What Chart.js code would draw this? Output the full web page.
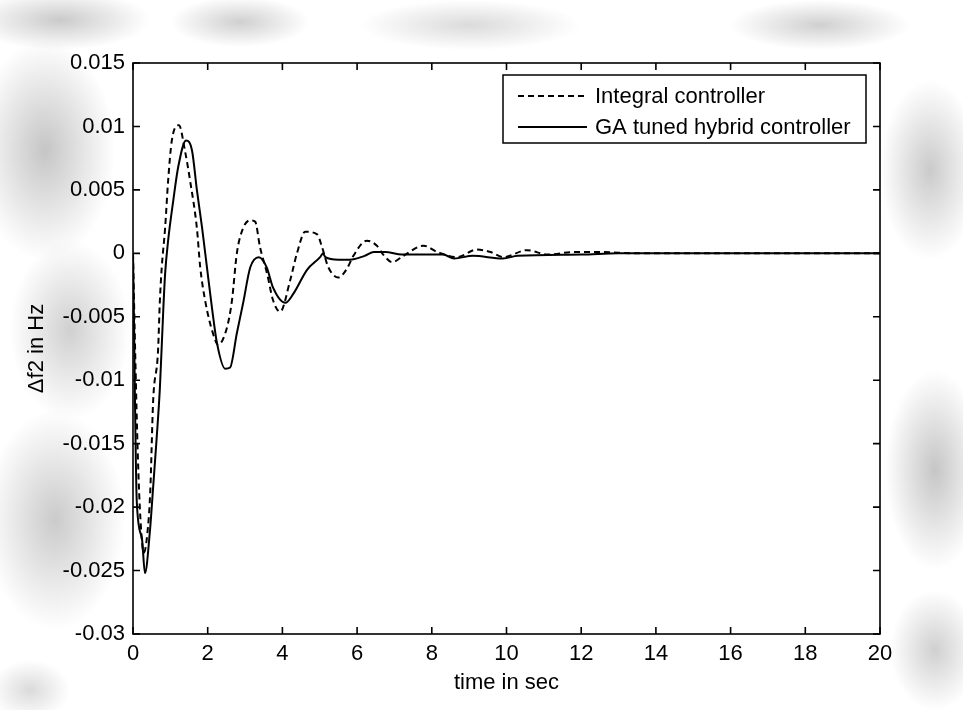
<!DOCTYPE html>
<html>
<head>
<meta charset="utf-8">
<script src="https://cdn.jsdelivr.net/npm/chart.js@4.4.1/dist/chart.umd.min.js"></script>
<style>
  html, body { margin: 0; padding: 0; background: #ffffff; }
  #wrap {
    position: relative; width: 963px; height: 710px; overflow: hidden;
    background:
      radial-gradient(ellipse 70px 110px at 45px 150px, rgba(150,150,150,0.55), rgba(150,150,150,0) 100%),
      radial-gradient(ellipse 60px 90px at 70px 330px, rgba(150,150,150,0.45), rgba(150,150,150,0) 100%),
      radial-gradient(ellipse 70px 110px at 55px 520px, rgba(150,150,150,0.5), rgba(150,150,150,0) 100%),
      radial-gradient(ellipse 90px 30px at 60px 20px, rgba(150,150,150,0.5), rgba(150,150,150,0) 100%),
      radial-gradient(ellipse 70px 25px at 240px 22px, rgba(150,150,150,0.45), rgba(150,150,150,0) 100%),
      radial-gradient(ellipse 110px 25px at 470px 25px, rgba(150,150,150,0.35), rgba(150,150,150,0) 100%),
      radial-gradient(ellipse 90px 25px at 820px 25px, rgba(150,150,150,0.45), rgba(150,150,150,0) 100%),
      radial-gradient(ellipse 50px 90px at 930px 170px, rgba(150,150,150,0.5), rgba(150,150,150,0) 100%),
      radial-gradient(ellipse 50px 100px at 935px 470px, rgba(150,150,150,0.55), rgba(150,150,150,0) 100%),
      radial-gradient(ellipse 45px 60px at 935px 650px, rgba(150,150,150,0.45), rgba(150,150,150,0) 100%),
      radial-gradient(ellipse 40px 30px at 30px 690px, rgba(150,150,150,0.35), rgba(150,150,150,0) 100%),
      #ffffff;
  }
  canvas { display: block; }
</style>
</head>
<body>
<div id="wrap"><canvas id="c" width="963" height="710"></canvas></div>
<script>
// Frequency deviation of area 2 after a load step (seconds, Hz)
const integralTime = [0, 0.06, 0.13, 0.20, 0.29, 0.38, 0.46, 0.54, 0.67, 0.72, 0.77, 0.86, 0.94, 1.04, 1.23, 1.39, 1.53, 1.71, 1.80, 1.93, 2.14, 2.28, 2.52, 2.65, 2.78, 2.95, 3.14, 3.27, 3.40, 3.59, 3.75, 3.94, 4.21, 4.39, 4.61, 4.93, 5.06, 5.23, 5.50, 5.73, 5.90, 6.26, 6.53, 6.70, 6.94, 7.24, 7.78, 8.15, 8.68, 9.21, 9.57, 9.92, 10.55, 11.1, 11.8, 12.5, 13.5, 20];
const integralDf = [0, -0.008, -0.016, -0.021, -0.0236, -0.0222, -0.0189, -0.0116, -0.0077, -0.0037, -0.0011, 0.002, 0.0057, 0.0089, 0.0101, 0.0081, 0.0057, 0.002, -0.0011, -0.0037, -0.0063, -0.0072, -0.0058, -0.0037, 0, 0.002, 0.0026, 0.0025, 0.0005, -0.0016, -0.0037, -0.0046, -0.0021, 0, 0.0017, 0.0015, 0.0005, -0.0011, -0.0019, -0.0012, -0.0002, 0.001, 0.0006, -0.0001, -0.0007, -0.0002, 0.0006, 0.0001, -0.0003, 0.0003, 0.0001, -0.0003, 0.00025, -0.0001, 0.0001, 0.0001, 0, 0];

const hybridTime = [0, 0.03, 0.05, 0.10, 0.24, 0.32, 0.45, 0.54, 0.63, 0.72, 0.81, 0.86, 0.94, 1.08, 1.21, 1.42, 1.58, 1.71, 1.85, 1.98, 2.11, 2.25, 2.47, 2.60, 2.78, 2.95, 3.14, 3.37, 3.58, 3.75, 4.08, 4.29, 4.66, 5.01, 5.09, 5.15, 5.50, 5.80, 6.20, 6.45, 6.75, 7.20, 8.30, 8.60, 9.10, 9.90, 10.30, 12.0, 13.0, 20];
const hybridDf = [0, -0.006, -0.011, -0.0195, -0.0225, -0.0252, -0.022, -0.0184, -0.0147, -0.0106, -0.0045, -0.0016, 0.001, 0.0042, 0.0068, 0.0089, 0.0081, 0.005, 0.002, -0.0011, -0.0042, -0.0071, -0.0091, -0.009, -0.0063, -0.0039, -0.0011, -0.0003, -0.0011, -0.0027, -0.0039, -0.0032, -0.0013, -0.0003, 0, -0.0003, -0.0005, -0.0005, -0.0002, 0.0001, 0.0001, -0.0001, -0.0001, -0.0004, -0.0002, -0.0004, -0.0002, -0.0001, 0, 0];

const seriesNames = ['Integral controller', 'GA tuned hybrid controller'];
const xTicks = [0, 2, 4, 6, 8, 10, 12, 14, 16, 18, 20];
const xTickLabels = ['0', '2', '4', '6', '8', '10', '12', '14', '16', '18', '20'];
const yTicks = [0.015, 0.01, 0.005, 0, -0.005, -0.01, -0.015, -0.02, -0.025, -0.03];
const yTickLabels = ['0.015', '0.01', '0.005', '0', '-0.005', '-0.01', '-0.015', '-0.02', '-0.025', '-0.03'];

const FONT = '"Liberation Sans", Arial, Helvetica, sans-serif';
const toPoints = (ts, vs) => ts.map((t, i) => ({ x: t, y: vs[i] }));

// White plotting area
const plotBackground = {
  id: 'plotBackground',
  beforeDraw(chart) {
    const { ctx, chartArea: a } = chart;
    ctx.save();
    ctx.fillStyle = '#ffffff';
    ctx.fillRect(a.left, a.top, a.right - a.left, a.bottom - a.top);
    ctx.restore();
  }
};

// Boxed axes with inward tick marks on all four sides
const boxFrame = {
  id: 'boxFrame',
  afterDatasetsDraw(chart) {
    const { ctx, chartArea: a, scales } = chart;
    const len = 7;
    ctx.save();
    ctx.strokeStyle = '#000';
    ctx.lineWidth = 1.6;
    ctx.strokeRect(a.left, a.top, a.right - a.left, a.bottom - a.top);
    ctx.beginPath();
    xTicks.forEach(v => {
      const px = scales.x.getPixelForValue(v);
      ctx.moveTo(px, a.bottom); ctx.lineTo(px, a.bottom - len);
      ctx.moveTo(px, a.top); ctx.lineTo(px, a.top + len);
    });
    yTicks.forEach(v => {
      const py = scales.y.getPixelForValue(v);
      ctx.moveTo(a.left, py); ctx.lineTo(a.left + len, py);
      ctx.moveTo(a.right, py); ctx.lineTo(a.right - len, py);
    });
    ctx.stroke();
    ctx.restore();
  }
};

// Boxed legend in the upper right corner of the plot
const boxLegend = {
  id: 'boxLegend',
  afterDraw(chart) {
    const { ctx, chartArea: a } = chart;
    const w = 363, h = 68;
    const left = a.right - 14 - w, top = a.top + 12;
    ctx.save();
    ctx.fillStyle = '#fff';
    ctx.fillRect(left, top, w, h);
    ctx.strokeStyle = '#000';
    ctx.lineWidth = 1.5;
    ctx.strokeRect(left, top, w, h);
    chart.data.datasets.forEach((ds, i) => {
      const y = top + 21 + i * 31;
      ctx.beginPath();
      ctx.setLineDash(ds.borderDash || []);
      ctx.lineWidth = ds.borderWidth;
      ctx.strokeStyle = ds.borderColor;
      ctx.moveTo(left + 15, y);
      ctx.lineTo(left + 84, y);
      ctx.stroke();
      ctx.setLineDash([]);
      ctx.fillStyle = '#000';
      ctx.font = '22px ' + FONT;
      ctx.textBaseline = 'middle';
      ctx.textAlign = 'left';
      ctx.fillText(ds.label, left + 92, y + 1);
    });
    ctx.restore();
  }
};

new Chart(document.getElementById('c'), {
  type: 'line',
  data: {
    datasets: [
      {
        label: seriesNames[0],
        data: toPoints(integralTime, integralDf),
        borderColor: '#000',
        borderWidth: 2,
        borderDash: [6, 4],
        pointRadius: 0,
        cubicInterpolationMode: 'monotone',
        fill: false
      },
      {
        label: seriesNames[1],
        data: toPoints(hybridTime, hybridDf),
        borderColor: '#000',
        borderWidth: 2,
        pointRadius: 0,
        cubicInterpolationMode: 'monotone',
        fill: false
      }
    ]
  },
  options: {
    responsive: false,
    animation: false,
    devicePixelRatio: 1,
    layout: { padding: { left: 0, top: 63, right: 83, bottom: 0 } },
    plugins: { legend: { display: false }, tooltip: { enabled: false } },
    scales: {
      x: {
        type: 'linear',
        min: 0, max: 20,
        afterBuildTicks: s => { s.ticks = xTicks.map(v => ({ value: v })); },
        afterFit: s => { s.height = 76; },
        grid: { display: false, drawTicks: false },
        border: { display: false },
        ticks: {
          color: '#000', padding: 7, maxRotation: 0, autoSkip: false,
          font: { family: FONT, size: 22 },
          callback: (v, i) => xTickLabels[i]
        },
        title: {
          display: true, text: 'time in sec', color: '#000',
          font: { family: FONT, size: 22 },
          padding: { top: 0, bottom: 14 }
        }
      },
      y: {
        type: 'linear',
        min: -0.03, max: 0.015,
        afterBuildTicks: s => { s.ticks = yTicks.map(v => ({ value: v })); },
        afterFit: s => { s.width = 133; },
        grid: { display: false, drawTicks: false },
        border: { display: false },
        ticks: {
          color: '#000', padding: 8, autoSkip: false,
          font: { family: FONT, size: 22 },
          callback: (v, i) => yTickLabels[i]
        },
        title: {
          display: true, text: 'Δf2 in Hz', color: '#000',
          font: { family: FONT, size: 22 },
          padding: { top: 24, bottom: 0 }
        }
      }
    }
  },
  plugins: [plotBackground, boxFrame, boxLegend]
});
</script>
</body>
</html>
